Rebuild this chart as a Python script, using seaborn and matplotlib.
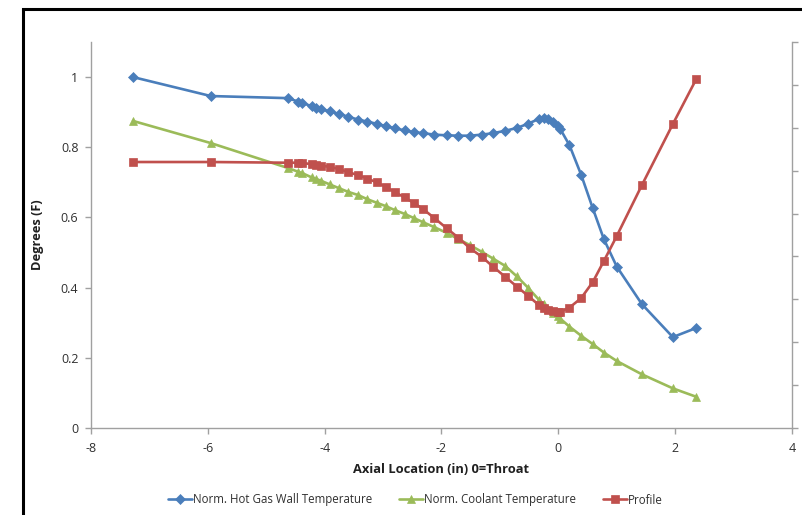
import matplotlib
matplotlib.use("Agg")
import matplotlib.pyplot as plt
import seaborn as sns
import pandas as pd
from matplotlib.lines import Line2D

x_loc = [-7.28, -5.95, -4.63, -4.45, -4.38, -4.22, -4.14, -4.07, -3.91, -3.75,
         -3.60, -3.43, -3.27, -3.11, -2.95, -2.80, -2.63, -2.47, -2.31, -2.12,
         -1.91, -1.71, -1.51, -1.31, -1.12, -0.91, -0.71, -0.52, -0.33, -0.25,
         -0.17, -0.09, -0.01, 0.03, 0.19, 0.39, 0.59, 0.78, 1.00, 1.43, 1.96, 2.36]

hot_gas = [1.000, 0.946, 0.940, 0.930, 0.926, 0.917, 0.913, 0.909, 0.902, 0.895,
           0.887, 0.879, 0.873, 0.867, 0.860, 0.854, 0.848, 0.843, 0.840, 0.836,
           0.834, 0.833, 0.833, 0.836, 0.840, 0.847, 0.855, 0.867, 0.881, 0.883,
           0.880, 0.873, 0.860, 0.853, 0.806, 0.722, 0.626, 0.538, 0.460, 0.353, 0.259, 0.285]

coolant = [0.875, 0.812, 0.741, 0.730, 0.726, 0.714, 0.709, 0.705, 0.694, 0.683,
           0.673, 0.664, 0.652, 0.642, 0.632, 0.621, 0.610, 0.598, 0.586, 0.572,
           0.556, 0.538, 0.521, 0.502, 0.483, 0.462, 0.432, 0.400, 0.365, 0.352,
           0.340, 0.328, 0.318, 0.312, 0.289, 0.263, 0.239, 0.215, 0.191, 0.153, 0.113, 0.089]

profile = [0.758, 0.758, 0.756, 0.756, 0.755, 0.752, 0.749, 0.748, 0.744, 0.738,
           0.729, 0.721, 0.711, 0.700, 0.687, 0.672, 0.657, 0.641, 0.623, 0.598,
           0.569, 0.542, 0.512, 0.488, 0.460, 0.431, 0.403, 0.377, 0.350, 0.341,
           0.336, 0.333, 0.331, 0.331, 0.343, 0.370, 0.416, 0.476, 0.547, 0.692, 0.866, 0.994]

series_names = ["Norm. Hot Gas Wall Temperature", "Norm. Coolant Temperature", "Profile"]
x_ticks = [-8, -6, -4, -2, 0, 2, 4]
y_ticks = [0, 0.2, 0.4, 0.6, 0.8, 1.0]
y_tick_labels = ["0", "0.2", "0.4", "0.6", "0.8", "1"]
y2_ticks = list(range(0, 10))

sns.set_theme(style="white")
plt.rcParams["font.family"] = ["Open Sans", "DejaVu Sans"]

W, H = 803, 515
fig = plt.figure(figsize=(W / 100, H / 100), dpi=100)
ax = fig.add_axes([91 / W, 1 - 428 / H, (792 - 91) / W, (428 - 42) / H])

df = pd.DataFrame({"x": x_loc, "hot": hot_gas, "cool": coolant, "prof": profile})

blue, green, red = "#4A7EBB", "#9BBB59", "#C0504D"
sns.lineplot(data=df, x="x", y="hot", ax=ax, color=blue, marker="D", markersize=4.8,
             markeredgewidth=0.5, markeredgecolor=blue, linewidth=1.9, sort=False,
             label=series_names[0], legend=False)
sns.lineplot(data=df, x="x", y="cool", ax=ax, color=green, marker="^", markersize=6,
             markeredgewidth=0.5, markeredgecolor=green, linewidth=1.9, sort=False,
             label=series_names[1], legend=False)
sns.lineplot(data=df, x="x", y="prof", ax=ax, color=red, marker="s", markersize=6,
             markeredgewidth=0.5, markeredgecolor=red, linewidth=1.9, sort=False,
             label=series_names[2], legend=False)

ax.set_xlim(-8, 4)
ax.set_ylim(0, 1.1)
ax.set_xticks(x_ticks)
ax.set_xticklabels([str(t) for t in x_ticks])
ax.set_yticks(y_ticks)
ax.set_yticklabels(y_tick_labels)

spine_c = "#A0A0A0"
for s in ["top", "right"]:
    ax.spines[s].set_visible(False)
for s in ["left", "bottom"]:
    ax.spines[s].set_color(spine_c)
    ax.spines[s].set_linewidth(1.0)
ax.tick_params(axis="both", which="major", direction="out", length=4, width=1.0,
               color=spine_c, labelsize=9, labelcolor="#303030",
               bottom=True, left=True)
ax.tick_params(axis="x", pad=6)
ax.tick_params(axis="y", pad=5)

ax.set_xlabel("Axial Location (in) 0=Throat", fontsize=9.3, fontweight="bold",
              color="#202020", labelpad=6)
ax.set_ylabel("Degrees (F)", fontsize=9.3, fontweight="bold", color="#202020", labelpad=12)

ax2 = ax.twinx()
ax2.set_ylim(0, 9)
ax2.set_yticks(y2_ticks)
ax2.set_yticklabels([""] * len(y2_ticks))
for s in ["top", "left", "bottom"]:
    ax2.spines[s].set_visible(False)
ax2.spines["right"].set_color(spine_c)
ax2.spines["right"].set_linewidth(1.0)
ax2.tick_params(axis="y", direction="out", length=4, width=1.0, color=spine_c, right=True)
ax2.set_ylabel("")

# legends placed individually to mirror the reference spacing
handles, labels = ax.get_legend_handles_labels()
leg_x = [168, 399, 603]
for h, lab, lx in zip(handles, labels, leg_x):
    leg = fig.legend([h], [lab], loc="center left", bbox_to_anchor=(lx / W, 1 - 500 / H),
                     frameon=False, fontsize=8.3, handlelength=2.1, handletextpad=0.1,
                     borderpad=0, borderaxespad=0)
    for t in leg.get_texts():
        t.set_color("#303030")

# chart frame (left and top edges)
fig.add_artist(Line2D([23 / W, 23 / W], [0, 1 - 9 / H], transform=fig.transFigure,
                      color="black", linewidth=2.2, solid_capstyle="butt"))
fig.add_artist(Line2D([23 / W, 1.0], [1 - 9 / H, 1 - 9 / H], transform=fig.transFigure,
                      color="black", linewidth=2.2, solid_capstyle="projecting"))

fig.savefig("out.png", dpi=100)
